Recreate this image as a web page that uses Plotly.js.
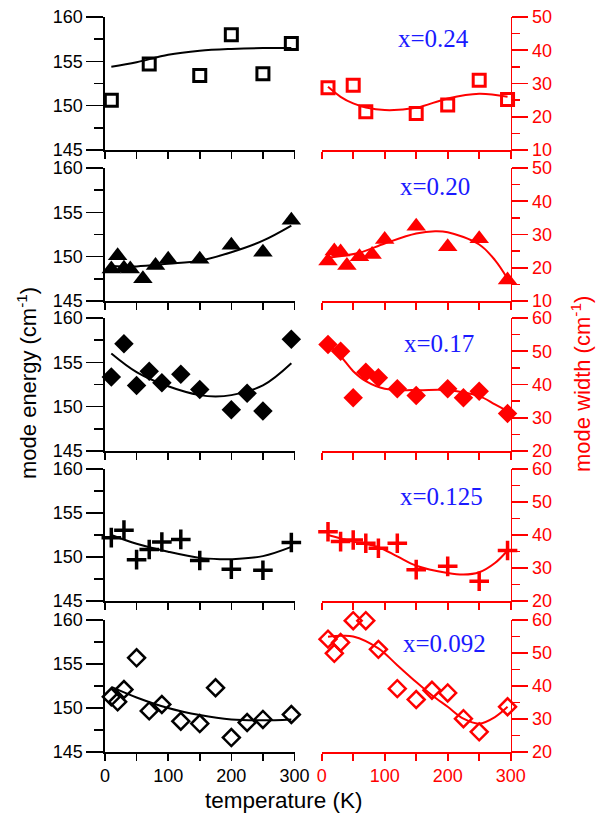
<!DOCTYPE html>
<html>
<head>
<meta charset="utf-8">
<script src="https://cdn.plot.ly/plotly-3.0.1.min.js"></script>
<style>
  html, body { margin: 0; padding: 0; background: #fff; }
  #chart { width: 598px; height: 815px; }
</style>
</head>
<body>
<div id="chart"></div>
<script>
// Phonon mode energy (left, black) and mode width (right, red) vs temperature
// for five compositions x. Curves are the smooth guide lines through the data.

// ---- x = 0.24 ----
const tE024 = [10, 70, 150, 200, 250, 295];
const E024 = [150.6, 154.7, 153.4, 158.0, 153.6, 157.0];
const tW024 = [10, 50, 70, 150, 200, 250, 295];
const W024 = [28.7, 29.5, 21.5, 21.0, 23.5, 31.0, 25.2];
const fitTE024 = [10, 50, 100, 150, 200, 250, 295];
const fitE024 = [154.4, 154.9, 155.75, 156.2, 156.4, 156.5, 156.5];
const fitTW024 = [10, 30, 50, 70, 100, 150, 200, 250, 295];
const fitW024 = [29.0, 26.0, 24.0, 22.8, 22.0, 22.7, 25.5, 26.9, 26.0];

// ---- x = 0.20 ----
const t020 = [10, 20, 30, 40, 60, 80, 100, 150, 200, 250, 295];
const E020 = [148.6, 150.1, 148.7, 148.6, 147.5, 149.0, 149.7, 149.7, 151.3, 150.5, 154.1];
const W020 = [22.0, 25.0, 24.7, 20.7, 23.3, 24.0, 28.5, 32.5, 26.3, 28.7, 16.3];
const fitTE020 = [10, 50, 100, 150, 200, 250, 295];
const fitE020 = [148.95, 148.9, 149.2, 149.55, 150.5, 151.8, 153.5];
const fitTW020 = [10, 60, 100, 150, 180, 200, 250, 275, 295];
const fitW020 = [23.0, 24.5, 27.3, 30.3, 31.0, 30.7, 27.0, 22.3, 16.7];

// ---- x = 0.17 ----
const t017 = [10, 30, 50, 70, 90, 120, 150, 200, 225, 250, 295];
const E017 = [153.35, 157.1, 152.4, 154.0, 152.7, 153.65, 151.95, 149.65, 151.5, 149.5, 157.6];
const W017 = [52.0, 50.0, 36.0, 43.7, 42.0, 38.7, 36.7, 38.7, 36.0, 38.0, 31.3];
const fitTE017 = [10, 50, 100, 150, 175, 200, 250, 295];
const fitE017 = [156.0, 153.9, 152.3, 151.3, 151.15, 151.3, 152.4, 154.9];
const fitTW017 = [10, 30, 50, 70, 100, 150, 200, 250, 275, 295];
const fitW017 = [52.0, 48.5, 44.0, 41.0, 38.7, 38.3, 38.3, 36.5, 34.0, 32.0];

// ---- x = 0.125 ----
const t0125 = [10, 30, 50, 70, 90, 120, 150, 200, 250, 295];
const E0125 = [152.2, 153.05, 149.7, 150.85, 151.7, 152.0, 149.6, 148.6, 148.5, 151.65];
const W0125 = [41.0, 38.0, 38.5, 37.5, 36.0, 37.5, 29.5, 30.5, 26.0, 35.3];
const fitTE0125 = [10, 50, 100, 150, 185, 200, 250, 295];
const fitE0125 = [152.5, 151.5, 150.6, 149.9, 149.75, 149.75, 150.1, 151.15];
const fitTW0125 = [10, 50, 90, 120, 150, 200, 225, 250, 275, 295];
const fitW0125 = [40.0, 38.0, 36.3, 33.5, 30.7, 28.5, 28.0, 28.7, 31.5, 35.3];

// ---- x = 0.092 ----
const t0092 = [10, 20, 30, 50, 70, 90, 120, 150, 175, 200, 225, 250, 295];
const E0092 = [151.27, 150.7, 152.1, 155.7, 149.67, 150.4, 148.5, 148.23, 152.3, 146.64, 148.35, 148.7, 149.26];
const W0092 = [54.2, 49.9, 53.2, 59.8, 59.8, 51.1, 39.2, 35.9, 38.7, 37.9, 30.1, 26.1, 33.7];
const fitTE0092 = [10, 50, 100, 150, 200, 250, 295];
const fitE0092 = [152.4, 151.2, 150.0, 149.2, 148.7, 148.6, 148.7];
const fitTW0092 = [10, 30, 50, 90, 120, 150, 175, 200, 225, 250, 275, 295];
const fitW0092 = [54.9, 55.2, 55.0, 51.4, 46.3, 41.2, 37.2, 33.7, 30.1, 28.6, 30.6, 33.7];

const compositions = ['x=0.24', 'x=0.20', 'x=0.17', 'x=0.125', 'x=0.092'];
const widthRanges = [[10, 50], [10, 50], [20, 60], [20, 60], [20, 60]];

const BLACK = '#000000';
const RED = '#ff0000';
const BLUE = '#1a1aff';
const FONT = 'Liberation Sans, Arial, Helvetica, sans-serif';

// marker styles per row
const markerStyles = [
  { symbol: 'square-open', size: 12, lw: 3 },
  { symbol: 'triangle-up', size: 17, lw: 0 },
  { symbol: 'diamond', size: 15, lw: 0 },
  { symbol: 'cross-thin', size: 14, lw: 3.5 },
  { symbol: 'diamond-open', size: 13, lw: 2.5 }
];

const rows = [
  { tE: tE024, E: E024, tW: tW024, W: W024, fTE: fitTE024, fE: fitE024, fTW: fitTW024, fW: fitW024 },
  { tE: t020, E: E020, tW: t020, W: W020, fTE: fitTE020, fE: fitE020, fTW: fitTW020, fW: fitW020 },
  { tE: t017, E: E017, tW: t017, W: W017, fTE: fitTE017, fE: fitE017, fTW: fitTW017, fW: fitW017 },
  { tE: t0125, E: E0125, tW: t0125, W: W0125, fTE: fitTE0125, fE: fitE0125, fTW: fitTW0125, fW: fitW0125 },
  { tE: t0092, E: E0092, tW: t0092, W: W0092, fTE: fitTE0092, fE: fitE0092, fTW: fitTW0092, fW: fitW0092 }
];

// page geometry (pixels) -> paper fractions
const W_PX = 598, H_PX = 815;
const leftX = [105 / W_PX, 294.5 / W_PX];
const rightX = [321.7 / W_PX, 510.7 / W_PX];
const rowTop = [17, 168, 318, 469, 620];
const rowBot = [150, 301, 451, 601, 752];

const traces = [];
const layout = {
  width: W_PX, height: H_PX,
  margin: { l: 0, r: 0, t: 0, b: 0 },
  paper_bgcolor: '#fff', plot_bgcolor: 'rgba(0,0,0,0)',
  showlegend: false,
  font: { family: FONT, size: 18, color: BLACK },
  annotations: []
};

function xAxis(domain, anchor, color, showLabels) {
  return {
    domain: domain, anchor: anchor, range: [0, 300],
    showline: true, linecolor: color, linewidth: 1.6,
    ticks: 'outside', ticklen: 7, tickwidth: 1.6, tickcolor: color,
    tick0: 0, dtick: 100,
    minor: { dtick: 50, ticks: 'outside', ticklen: 7, tickwidth: 1.6, tickcolor: color },
    showticklabels: showLabels,
    tickfont: { family: FONT, size: 18, color: color },
    showgrid: false, zeroline: false, fixedrange: true
  };
}

function yAxis(domain, anchor, color, range, dtick, side, majorLen, minorLen) {
  return {
    domain: domain, anchor: anchor, range: range, side: side,
    showline: true, linecolor: color, linewidth: 1.6,
    ticks: 'outside', ticklen: majorLen, tickwidth: 1.6, tickcolor: color,
    tick0: range[0], dtick: dtick,
    minor: { dtick: dtick / 2, ticks: 'outside', ticklen: minorLen, tickwidth: 1.6, tickcolor: color },
    tickfont: { family: FONT, size: 18, color: color },
    showgrid: false, zeroline: false, fixedrange: true
  };
}

rows.forEach((r, i) => {
  const nL = 2 * i + 1, nR = 2 * i + 2;
  const yDom = [1 - rowBot[i] / H_PX, 1 - rowTop[i] / H_PX];
  const last = i === rows.length - 1;
  const ms = markerStyles[i];

  layout['xaxis' + nL] = xAxis(leftX, 'y' + nL, BLACK, last);
  layout['yaxis' + nL] = yAxis(yDom, 'x' + nL, BLACK, [145, 160], 5, 'left', 17, 9);
  layout['xaxis' + nR] = xAxis(rightX, 'y' + nR, RED, last);
  layout['yaxis' + nR] = yAxis(yDom, 'x' + nR, RED, widthRanges[i], 10, 'right', 16, 8);

  // guide curves
  traces.push({
    x: r.fTE, y: r.fE, xaxis: 'x' + nL, yaxis: 'y' + nL,
    mode: 'lines', line: { color: BLACK, width: 2, shape: 'spline' }, hoverinfo: 'skip'
  });
  traces.push({
    x: r.fTW, y: r.fW, xaxis: 'x' + nR, yaxis: 'y' + nR,
    mode: 'lines', line: { color: RED, width: 2, shape: 'spline' }, hoverinfo: 'skip'
  });

  // data points
  traces.push({
    x: r.tE, y: r.E, xaxis: 'x' + nL, yaxis: 'y' + nL, mode: 'markers', cliponaxis: false,
    marker: { symbol: ms.symbol, size: ms.size, color: BLACK, line: { color: BLACK, width: ms.lw } }
  });
  traces.push({
    x: r.tW, y: r.W, xaxis: 'x' + nR, yaxis: 'y' + nR, mode: 'markers', cliponaxis: false,
    marker: { symbol: ms.symbol, size: ms.size, color: RED, line: { color: RED, width: ms.lw } }
  });
});

// composition labels
const labelPos = [[433, 39], [435, 186], [439, 343], [441, 496], [444.5, 643]];
compositions.forEach((txt, i) => {
  layout.annotations.push({
    text: txt, xref: 'paper', yref: 'paper',
    x: labelPos[i][0] / W_PX, y: 1 - labelPos[i][1] / H_PX,
    xanchor: 'center', yanchor: 'middle', showarrow: false,
    font: { family: 'Liberation Serif, Times New Roman, serif', size: 25, color: BLUE }
  });
});

// axis titles
layout.annotations.push({
  text: 'mode energy (cm<sup>-1</sup>)', xref: 'paper', yref: 'paper',
  x: 27 / W_PX, y: 1 - 383 / H_PX, textangle: -90,
  xanchor: 'center', yanchor: 'middle', showarrow: false,
  font: { family: FONT, size: 22, color: BLACK }
});
layout.annotations.push({
  text: 'mode width (cm<sup>-1</sup>)', xref: 'paper', yref: 'paper',
  x: 581 / W_PX, y: 1 - 384 / H_PX, textangle: -90,
  xanchor: 'center', yanchor: 'middle', showarrow: false,
  font: { family: FONT, size: 22, color: RED }
});
layout.annotations.push({
  text: 'temperature (K)', xref: 'paper', yref: 'paper',
  x: 283.5 / W_PX, y: 1 - 800 / H_PX,
  xanchor: 'center', yanchor: 'middle', showarrow: false,
  font: { family: FONT, size: 22.5, color: BLACK }
});

Plotly.newPlot('chart', traces, layout, { staticPlot: true, displayModeBar: false });
</script>
</body>
</html>
